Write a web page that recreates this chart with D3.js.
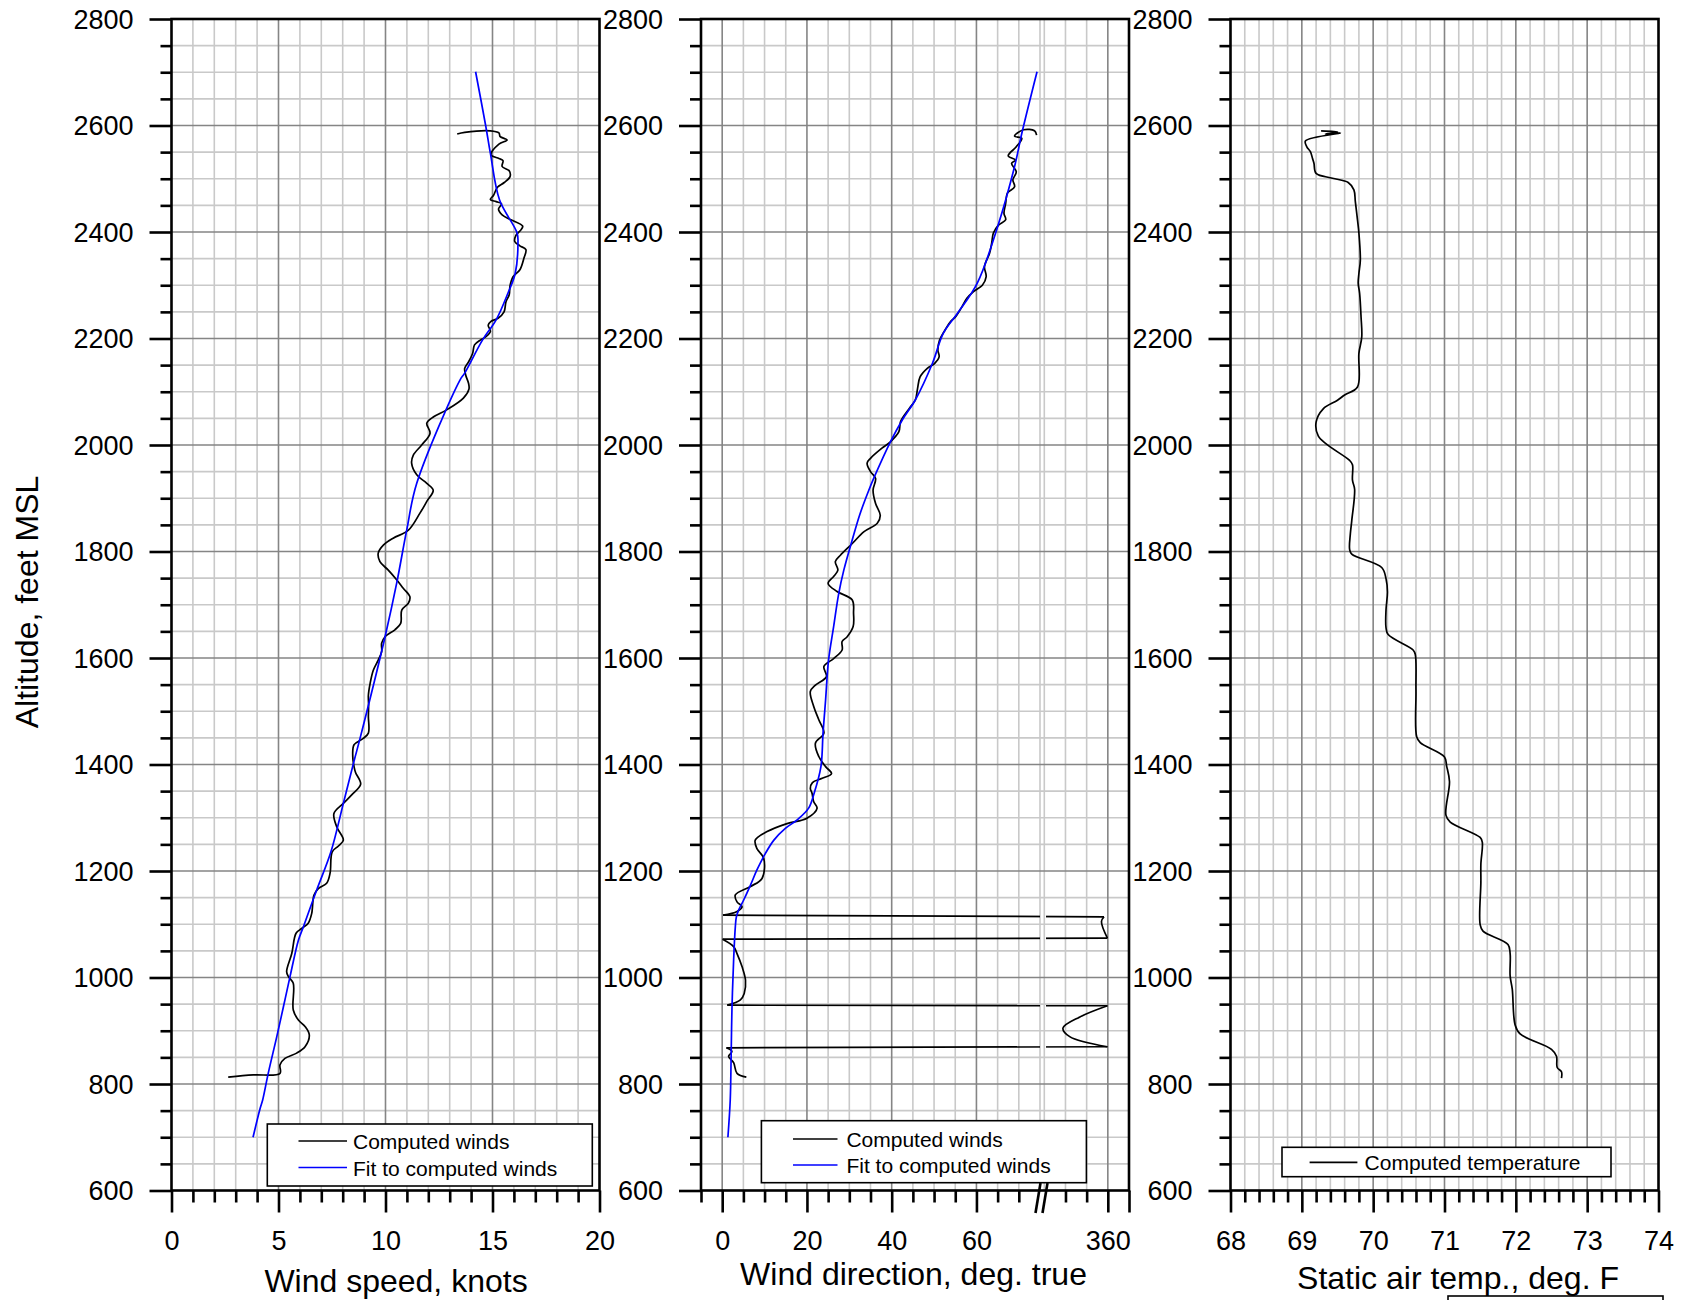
<!DOCTYPE html>
<html>
<head>
<meta charset="utf-8">
<script src="https://cdn.jsdelivr.net/npm/d3@7"></script>
<style>
  html, body { margin: 0; padding: 0; background: #fff; }
  svg { display: block; font-family: "Liberation Sans", Arial, Helvetica, sans-serif; }
</style>
</head>
<body>
<svg id="chart" width="1684" height="1300"></svg>
<script>
// ---- Sounding profiles: [altitude (ft MSL), value] ----
const speedComputed = [
  [2584,13.35],[2587,13.7],[2590,14.9],[2586,15.3],[2579,15.36],[2573,15.68],[2565,15.3],[2545,14.93],
  [2538,15.3],[2534,15.49],[2523,15.45],[2515,15.78],[2504,15.82],[2493,15.55],[2484,15.23],[2469,15.05],
  [2461,14.9],[2457,15.17],[2453,15.42],[2443,15.28],[2432,15.45],[2423,15.86],[2411,16.41],[2404,16.33],
  [2394,16.1],[2382,16.04],[2374,16.28],[2367,16.56],[2351,16.47],[2329,16.28],[2316,15.96],[2299,15.82],
  [2282,15.78],[2269,15.63],[2250,15.54],[2238,15.26],[2232,14.93],[2225,14.8],[2213,14.9],[2203,14.68],
  [2197,14.43],[2188,14.16],[2172,14.07],[2156,13.88],[2144,13.7],[2131,13.75],[2116,13.88],[2105,13.9],
  [2088,13.64],[2066,12.86],[2053,12.25],[2041,11.93],[2022,12.08],[2000,11.69],[1981,11.3],[1966,11.22],
  [1944,11.46],[1928,11.93],[1915,12.23],[1894,11.93],[1872,11.61],[1840,11.07],[1825,10.36],[1812,9.9],
  [1797,9.66],[1781,9.74],[1765,10.13],[1747,10.52],[1731,10.83],[1715,11.14],[1703,11.07],[1690,10.76],
  [1665,10.71],[1653,10.44],[1640,9.98],[1628,9.82],[1612,9.82],[1596,9.66],[1577,9.43],[1552,9.28],
  [1530,9.2],[1512,9.21],[1490,9.2],[1459,9.2],[1449,8.96],[1437,8.53],[1415,8.47],[1396,8.53],
  [1385,8.6],[1363,8.84],[1343,8.42],[1327,8.03],[1308,7.59],[1283,7.72],[1258,8.03],[1247,7.8],
  [1236,7.51],[1196,7.41],[1177,7.25],[1167,6.86],[1155,6.66],[1120,6.55],[1102,6.39],[1092,6.08],
  [1083,5.82],[1045,5.62],[1011,5.38],[1002,5.46],[989,5.69],[939,5.69],[920,5.93],[908,6.24],
  [892,6.44],[870,6.24],[858,5.85],[848,5.3],[836,5.07],[820,5.07],[817,3.82],[813,2.65]
];

const speedFit = [
  [2701,14.21],[2600,14.68],[2548,14.9],[2460,15.33],[2398,16.15],[2379,16.19],[2322,16.06],[2286,15.73],
  [2235,15.17],[2197,14.53],[2135,13.7],[2122,13.48],[1928,11.46],[1840,10.99],[1740,10.52],[1640,9.98],
  [1449,8.81],[1408,8.54],[1327,8.03],[1236,7.45],[1164,6.78],[1095,6.16],[1070,5.93],[1002,5.54],
  [945,5.23],[889,4.92],[820,4.52],[770,4.26],[754,4.14],[700,3.81]
];

const dirComputed = [
  [2582,74.2],[2590,73.7],[2592,71.1],[2580,69.0],[2576,70.7],[2560,69.4],[2543,67.5],[2535,69.2],
  [2529,68.3],[2513,69.4],[2498,68.6],[2485,69.0],[2473,67.3],[2454,66.9],[2435,66.5],[2423,66.9],
  [2413,65.2],[2398,64.0],[2379,63.6],[2360,63.1],[2335,61.9],[2316,62.3],[2300,61.4],[2288,59.3],
  [2275,57.7],[2257,56.4],[2241,55.1],[2232,53.9],[2216,52.6],[2197,51.3],[2178,50.9],[2166,51.2],
  [2153,50.1],[2144,48.4],[2128,46.7],[2106,46.1],[2085,45.6],[2069,44.2],[2044,42.1],[2025,41.7],
  [2006,39.7],[1994,37.7],[1975,35.0],[1966,34.2],[1950,35.0],[1937,36.2],[1915,35.6],[1890,36.2],
  [1868,37.3],[1853,36.6],[1837,33.4],[1815,30.7],[1793,27.9],[1781,26.7],[1765,27.3],[1753,26.3],
  [1740,25.0],[1725,27.1],[1709,30.7],[1684,31.0],[1659,30.9],[1640,29.5],[1631,28.3],[1615,28.3],
  [1599,26.3],[1584,24.0],[1565,24.6],[1549,22.0],[1537,20.8],[1509,21.6],[1484,22.8],[1459,24.0],
  [1440,22.0],[1415,22.8],[1396,24.4],[1383,25.8],[1374,23.6],[1366,21.3],[1355,20.8],[1346,21.2],
  [1330,21.6],[1318,22.4],[1299,20.0],[1289,15.3],[1274,10.6],[1258,7.8],[1242,8.2],[1224,9.8],
  [1186,9.4],[1171,6.7],[1155,3.1],[1142,3.5],[1133,4.7],[1124,3.5],[1117,0.2],
  [1114,359.1],[1105,358.5],[1074,359.9],
  [1072,0.1],[1058,2.7],[1045,3.5],[1020,4.7],[995,5.5],[970,5.2],[958,4.3],[948,1.2],
  [947,359.9],[926,353.4],[905,349.4],[889,351.0],[870,359.9],
  [868,1.0],[861,2.3],[852,1.5],[840,2.7],[820,3.5],[813,5.7]
];

const dirFit = [
  [2701,74.3],[2585,70.7],[2523,69.0],[2410,65.0],[2304,60.2],[2247,55.5],[2210,52.2],[2153,49.6],
  [2085,45.6],[2047,42.5],[2006,39.7],[1940,35.9],[1915,34.6],[1870,32.5],[1822,30.7],[1765,28.7],
  [1721,27.5],[1659,26.3],[1596,25.1],[1521,24.4],[1459,23.8],[1396,23.3],[1346,21.7],[1318,20.4],
  [1296,17.7],[1280,14.9],[1258,12.2],[1233,10.2],[1202,8.2],[1174,6.7],[1146,5.1],[1127,3.9],
  [1114,3.35],[1095,3.1],[1033,2.7],[939,2.3],[845,2.1],[770,1.9],[700,1.35]
];

const tempComputed = [
  [2590,69.27],[2588,69.5],[2584,69.33],[2586,69.54],[2571,69.05],[2560,69.07],[2551,69.12],[2538,69.15],
  [2529,69.17],[2510,69.2],[2501,69.43],[2493,69.65],[2479,69.73],[2457,69.75],[2423,69.78],[2398,69.8],
  [2347,69.82],[2322,69.8],[2304,69.79],[2285,69.81],[2241,69.83],[2203,69.84],[2172,69.8],[2109,69.78],
  [2094,69.6],[2084,69.5],[2068,69.3],[2043,69.2],[2017,69.23],[2001,69.35],[1971,69.67],[1963,69.71],
  [1934,69.71],[1917,69.74],[1858,69.70],[1833,69.68],[1804,69.67],[1795,69.70],[1770,70.12],[1749,70.18],
  [1724,70.2],[1690,70.18],[1657,70.18],[1644,70.21],[1615,70.56],[1607,70.59],[1540,70.6],[1452,70.61],
  [1441,70.66],[1414,71.0],[1397,71.03],[1368,71.07],[1305,71.02],[1292,71.08],[1263,71.5],[1254,71.53],
  [1213,71.51],[1179,71.51],[1099,71.5],[1087,71.54],[1062,71.89],[1045,71.92],[1003,71.92],[978,71.95],
  [911,71.99],[894,72.06],[865,72.5],[852,72.57],[831,72.58],[823,72.64],[811,72.64]
];

// ---- Tick values ----
const altTicks = d3.range(600, 2801, 200);
const altMinorTicks = d3.range(600, 2801, 50).filter(a => a % 200 !== 0);
const speedTicks = [0, 5, 10, 15, 20];
const speedMinorTicks = d3.range(0, 21).filter(v => v % 5 !== 0);
const dirTicks = [0, 20, 40, 60, 360];
const dirMinorTicks = [-5, 5, 10, 15, 25, 30, 35, 45, 50, 55, 65, 70, 350, 355];
const dirGridMinor = [5, 10, 15, 25, 30, 35, 45, 50, 55, 65, 70, 75, 345, 350, 355];
const tempTicks = [68, 69, 70, 71, 72, 73, 74];
const tempMinorTicks = d3.range(0, 31).filter(i => i % 5 !== 0).map(i => +(68 + i * 0.2).toFixed(1));

// ---- Scales ----
const plotTop = 19, plotBottom = 1190.5;
const y = d3.scaleLinear().domain([600, 2800]).range([plotBottom, plotTop]);
const xSpeed = d3.scaleLinear().domain([0, 20]).range([171.5, 599.5]);
// direction axis is broken between 75 and 345 degrees
const xDir = d3.scaleLinear().domain([-5, 75, 345, 365]).range([701, 1040, 1044.3, 1129]);
const xTemp = d3.scaleLinear().domain([68, 74]).range([1230.5, 1658.5]);

const svg = d3.select("#chart");
const AXIS_W = 2.6;
const MINOR_GRID = "#c9c9c9", MAJOR_GRID = "#858585";

const panels = [
  { x: xSpeed, left: 171.5, right: 599.5,
    gridMinor: speedMinorTicks, gridMajor: [5, 10, 15],
    ticks: speedTicks, minorTicks: speedMinorTicks, extraMajor: [] },
  { x: xDir, left: 701, right: 1129,
    gridMinor: dirGridMinor, gridMajor: [0, 20, 40, 60, 360],
    ticks: dirTicks, minorTicks: dirMinorTicks, extraMajor: [365] },
  { x: xTemp, left: 1230.5, right: 1658.5,
    gridMinor: tempMinorTicks, gridMajor: [69, 70, 71, 72, 73],
    ticks: tempTicks, minorTicks: tempMinorTicks, extraMajor: [] }
];

// ---- Grids ----
panels.forEach(p => {
  const g = svg.append("g");
  const hLines = (vals, color) => g.append("g").selectAll("line").data(vals).join("line")
    .attr("x1", p.left).attr("x2", p.right)
    .attr("y1", d => y(d)).attr("y2", d => y(d))
    .attr("stroke", color).attr("stroke-width", 1.6);
  const vLines = (vals, color) => g.append("g").selectAll("line").data(vals).join("line")
    .attr("x1", d => p.x(d)).attr("x2", d => p.x(d))
    .attr("y1", plotTop).attr("y2", plotBottom)
    .attr("stroke", color).attr("stroke-width", 1.6);
  hLines(altMinorTicks, MINOR_GRID);
  vLines(p.gridMinor, MINOR_GRID);
  hLines(altTicks.filter(a => a !== 600 && a !== 2800), MAJOR_GRID);
  vLines(p.gridMajor, MAJOR_GRID);
});

// ---- Data lines ----
const defs = svg.append("defs");
const clipDir = defs.append("clipPath").attr("id", "clip-dir");
clipDir.append("rect").attr("x", 701).attr("y", plotTop).attr("width", 1040 - 701).attr("height", plotBottom - plotTop);
clipDir.append("rect").attr("x", 1046).attr("y", plotTop).attr("width", 1129 - 1046).attr("height", plotBottom - plotTop);

function addPath(d, color, clip) {
  const path = svg.append("path")
    .attr("d", d)
    .attr("fill", "none")
    .attr("stroke", color)
    .attr("stroke-width", 1.7)
    .attr("stroke-linejoin", "round");
  if (clip) path.attr("clip-path", `url(#${clip})`);
}

function drawProfile(data, x, color, clip) {
  const smooth = d3.line().x(d => x(d[1])).y(d => y(d[0])).curve(d3.curveCatmullRom.alpha(0.5));
  const straight = d3.line().x(d => x(d[1])).y(d => y(d[0]));
  // split where the direction wraps through north; wraps are joined with straight segments
  const runs = [];
  let cur = [data[0]];
  for (let i = 1; i < data.length; i++) {
    if (Math.abs(data[i][1] - data[i - 1][1]) > 180) { runs.push(cur); cur = [data[i]]; }
    else cur.push(data[i]);
  }
  runs.push(cur);
  runs.forEach((r, k) => {
    addPath(smooth(r), color, clip);
    if (k < runs.length - 1) addPath(straight([r[r.length - 1], runs[k + 1][0]]), color, clip);
  });
}

drawProfile(speedComputed, xSpeed, "#000");
drawProfile(speedFit, xSpeed, "#0000ff");
drawProfile(dirComputed, xDir, "#000", "clip-dir");
drawProfile(dirFit, xDir, "#0000ff", "clip-dir");
drawProfile(tempComputed, xTemp, "#000");

// ---- Legends ----
function legend(box, rows) {
  const g = svg.append("g");
  g.append("rect").attr("x", box[0]).attr("y", box[1]).attr("width", box[2]).attr("height", box[3])
    .attr("fill", "#fff").attr("stroke", "#000").attr("stroke-width", 1.6);
  rows.forEach(r => {
    g.append("line").attr("x1", r.x1).attr("x2", r.x2).attr("y1", r.ly).attr("y2", r.ly)
      .attr("stroke", r.color).attr("stroke-width", 1.7);
    g.append("text").attr("x", r.tx).attr("y", r.ty).attr("font-size", 21).attr("fill", "#000").text(r.label);
  });
}
legend([267.3, 1124, 325, 62], [
  { x1: 298.5, x2: 347, ly: 1141, tx: 353, ty: 1148.5, color: "#000", label: "Computed winds" },
  { x1: 298.5, x2: 347, ly: 1167.5, tx: 353, ty: 1175.5, color: "#0000ff", label: "Fit to computed winds" }
]);
legend([761.4, 1120.7, 325, 62], [
  { x1: 793, x2: 837.5, ly: 1139, tx: 846.4, ty: 1146.5, color: "#000", label: "Computed winds" },
  { x1: 793, x2: 837.5, ly: 1165, tx: 846.4, ty: 1172.5, color: "#0000ff", label: "Fit to computed winds" }
]);
legend([1282, 1147.3, 329, 29.4], [
  { x1: 1309.6, x2: 1357.4, ly: 1162.3, tx: 1364.6, ty: 1169.5, color: "#000", label: "Computed temperature" }
]);

// ---- Frames and axes ----
function styleAxis(g) {
  g.select(".domain").remove();
  g.selectAll(".tick line").attr("stroke", "#000").attr("stroke-width", AXIS_W);
  g.selectAll(".tick text").attr("fill", "#000").attr("font-size", 27)
    .attr("font-family", "\"Liberation Sans\", Arial, sans-serif");
}

panels.forEach(p => {
  svg.append("rect").attr("x", p.left).attr("y", plotTop)
    .attr("width", p.right - p.left).attr("height", plotBottom - plotTop)
    .attr("fill", "none").attr("stroke", "#000").attr("stroke-width", AXIS_W);

  // altitude axis
  svg.append("g").attr("transform", `translate(${p.left},0)`)
    .call(d3.axisLeft(y).tickValues(altMinorTicks).tickSize(11).tickFormat(""))
    .call(styleAxis);
  svg.append("g").attr("transform", `translate(${p.left},0)`)
    .call(d3.axisLeft(y).tickValues(altTicks).tickSize(22).tickPadding(16).tickFormat(d3.format("d")))
    .call(styleAxis)
    .selectAll(".tick text").attr("dy", "0.35em");

  // horizontal axis
  svg.append("g").attr("transform", `translate(0,${plotBottom})`)
    .call(d3.axisBottom(p.x).tickValues(p.minorTicks).tickSize(12).tickFormat(""))
    .call(styleAxis);
  svg.append("g").attr("transform", `translate(0,${plotBottom})`)
    .call(d3.axisBottom(p.x).tickValues(p.ticks).tickSize(22).tickPadding(18).tickFormat(d3.format("d")))
    .call(styleAxis);
  if (p.extraMajor.length) {
    svg.append("g").attr("transform", `translate(0,${plotBottom})`)
      .call(d3.axisBottom(p.x).tickValues(p.extraMajor).tickSize(22).tickFormat(""))
      .call(styleAxis);
  }
});

// axis break marks on the direction axis
[[1035.5, 1040.5], [1042.5, 1047.5]].forEach(([xb, xt]) => {
  svg.append("line").attr("x1", xb).attr("y1", 1213).attr("x2", xt).attr("y2", 1183)
    .attr("stroke", "#000").attr("stroke-width", AXIS_W);
});

// ---- Axis titles ----
const titles = [
  { text: "Wind speed, knots", x: 396, y: 1292 },
  { text: "Wind direction, deg. true", x: 913.5, y: 1285 },
  { text: "Static air temp., deg. F", x: 1458, y: 1288.5 }
];
titles.forEach(t => svg.append("text").attr("x", t.x).attr("y", t.y)
  .attr("text-anchor", "middle").attr("font-size", 32).attr("fill", "#000").text(t.text));

svg.append("text")
  .attr("transform", "translate(38,602) rotate(-90)")
  .attr("text-anchor", "middle").attr("font-size", 32).attr("fill", "#000")
  .text("Altitude, feet MSL");

// empty box at the lower right edge
svg.append("rect").attr("x", 1448).attr("y", 1296).attr("width", 215).attr("height", 20)
  .attr("fill", "none").attr("stroke", "#000").attr("stroke-width", 1.6);
</script>
</body>
</html>
